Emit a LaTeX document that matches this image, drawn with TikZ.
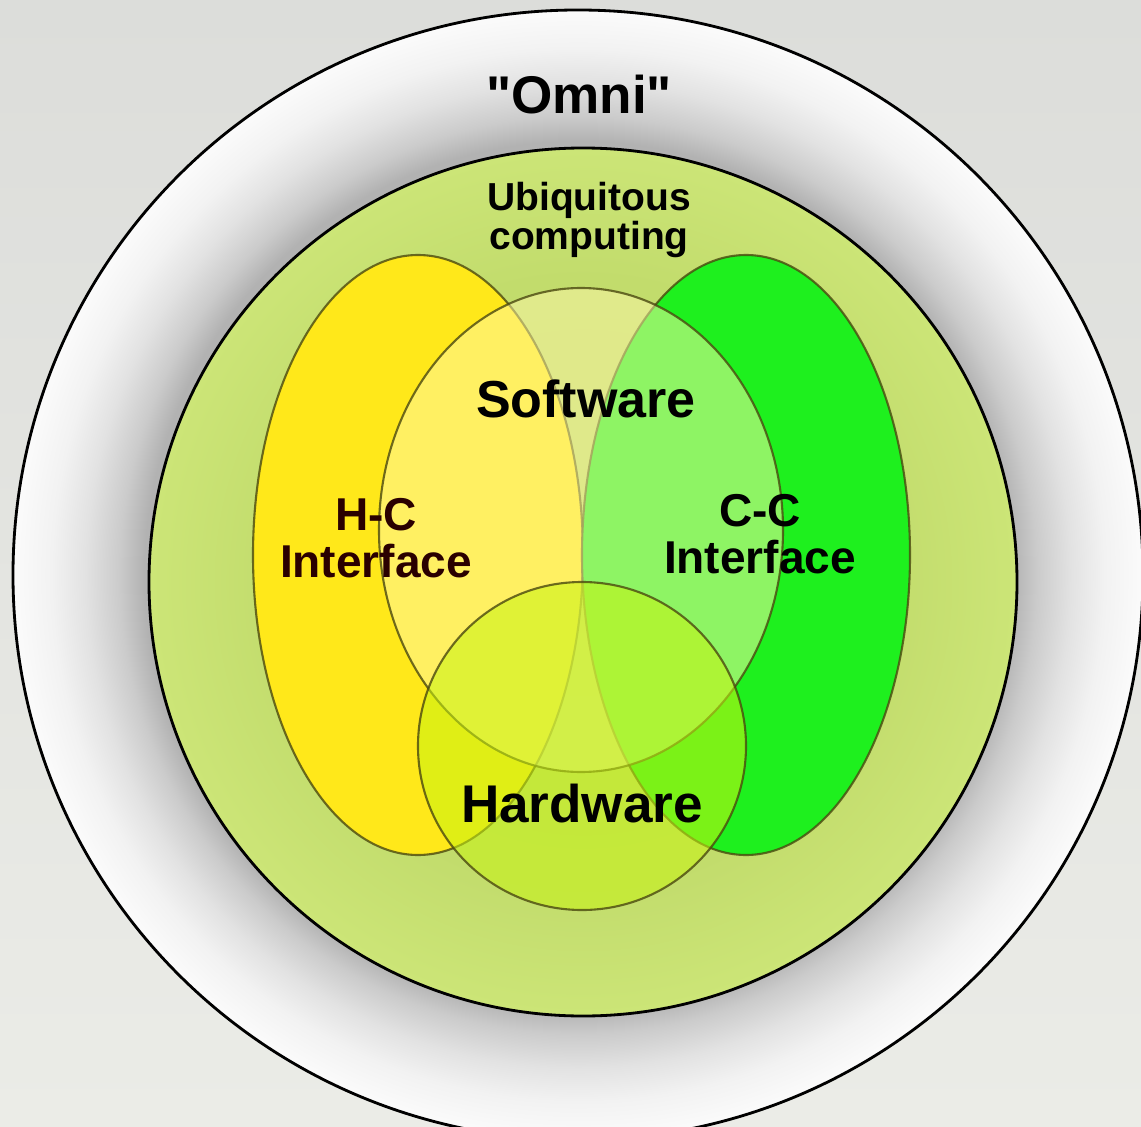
\documentclass[tikz,border=0pt]{standalone}
\usepackage{fontspec}
\setmainfont{Liberation Sans}[Ligatures=TeXOff]
\usepackage[rgb]{xcolor}
\usepackage{tikz}
\usetikzlibrary{math}
\definecolor{bg-high}{HTML}{DCDDDA}
\definecolor{bg-low}{HTML}{EBECE7}
\definecolor{ring-dark}{HTML}{B2B2B2}
\definecolor{ring-mid}{HTML}{CBCBCB}
\definecolor{ring-light}{HTML}{E2E2E2}
\definecolor{ring-pale}{HTML}{F2F2F2}
\definecolor{ring-edge}{HTML}{FBFBFB}
\definecolor{ubi-inner}{HTML}{BED968}
\definecolor{ubi-mid}{HTML}{C2DC6C}
\definecolor{ubi-outer}{HTML}{CCE577}
\definecolor{hc-yellow}{HTML}{FFE81A}
\definecolor{cc-green}{HTML}{1EF01E}
\definecolor{soft-color}{HTML}{FFF8AA}
\definecolor{hard-color}{HTML}{C8F412}
\definecolor{edge-olive}{HTML}{4A4810}
\definecolor{hc-text}{HTML}{2A0000}

% Shadow of the ubiquitous ring on the omni disc (25bp = path radius)
\pgfdeclareradialshading{omni-shade}{\pgfpoint{0bp}{0bp}}{%
  color(0bp)=(ring-dark); color(19.2bp)=(ring-dark); color(20.3bp)=(ring-mid);
  color(21.8bp)=(ring-light); color(23.3bp)=(ring-pale); color(25bp)=(ring-edge);
  color(50bp)=(ring-edge)}
\pgfdeclareradialshading{ubi-shade}{\pgfpoint{0bp}{0bp}}{%
  color(0bp)=(ubi-inner); color(17.5bp)=(ubi-mid); color(25bp)=(ubi-outer);
  color(50bp)=(ubi-outer)}

\tikzset{
  label-text/.style={font=\bfseries, align=center, inner sep=0pt},
  blob-edge/.style={draw=edge-olive, draw opacity=0.8, line width=0.6pt},
}

\begin{document}
\begin{tikzpicture}

% Position settings
\tikzmath{
    % Omni disc
    \xomni = -0.05;
    \yomni = 0.07;
    \romni = 5.65;
    % Ubiquitous computing disc
    \rubi = 4.34;
    % Interface ellipses
    \xhc = -1.65;
    \xcc = 1.63;
    \yface = 0.27;
    \rxhc = 1.65;
    \rxcc = 1.64;
    \ryface = 3.0;
    % Software ellipse
    \ysoft = 0.52;
    \rxsoft = 2.02;
    \rysoft = 2.42;
    % Hardware disc
    \yhard = -1.64;
    \rhard = 1.64;
}

% Page and faded backdrop
\useasboundingbox (-5.83,-5.44) rectangle (5.58,5.82);
\fill[top color=bg-high, bottom color=bg-low] (-5.83,-5.44) rectangle (5.58,5.82);
\clip (-5.83,-5.44) rectangle (5.58,5.82);

% Draws omni disc with its shadow
\shade[shading=omni-shade] (\xomni,\yomni) circle[radius=\romni];
\draw[black, line width=0.8pt] (\xomni,\yomni) circle[radius=\romni];

% Draws ubiquitous computing disc
\shade[shading=ubi-shade] (0,0) circle[radius=\rubi];
\draw[black, line width=0.8pt] (0,0) circle[radius=\rubi];

% Draws the two interface ellipses
\draw[blob-edge, fill=hc-yellow] (\xhc,\yface) ellipse[x radius=\rxhc, y radius=\ryface];
\draw[blob-edge, fill=cc-green] (\xcc,\yface) ellipse[x radius=\rxcc, y radius=\ryface];

% Draws software and hardware on top, see-through
\draw[blob-edge, fill=soft-color, fill opacity=0.5] (-0.02,\ysoft) ellipse[x radius=\rxsoft, y radius=\rysoft];
\draw[blob-edge, fill=hard-color, fill opacity=0.55] (-0.01,\yhard) circle[radius=\rhard];

% Labels (two-line labels sit on their last baseline)
\node[label-text, anchor=base, font=\fontsize{15.1}{18}\selectfont\bfseries] (omni) at (-0.04,4.68) {"Omni"};
\node[label-text, anchor=base, font=\fontsize{11.1}{10.3}\selectfont\bfseries] (ubi) at (0.06,3.32) {Ubiquitous\\computing};
\node[label-text, anchor=base, font=\fontsize{14.8}{17}\selectfont\bfseries] (soft) at (0.03,1.65) {Software};
\node[label-text, anchor=base, text=hc-text, font=\fontsize{13.1}{13.1}\selectfont\bfseries] (hc) at (-2.07,0.05) {H-C\\Interface};
\node[label-text, anchor=base, font=\fontsize{13.1}{13.1}\selectfont\bfseries] (cc) at (1.77,0.09) {C-C\\Interface};
\node[label-text, anchor=base, font=\fontsize{15.1}{18}\selectfont\bfseries] (hard) at (-0.01,-2.40) {Hardware};

\end{tikzpicture}
\end{document}
